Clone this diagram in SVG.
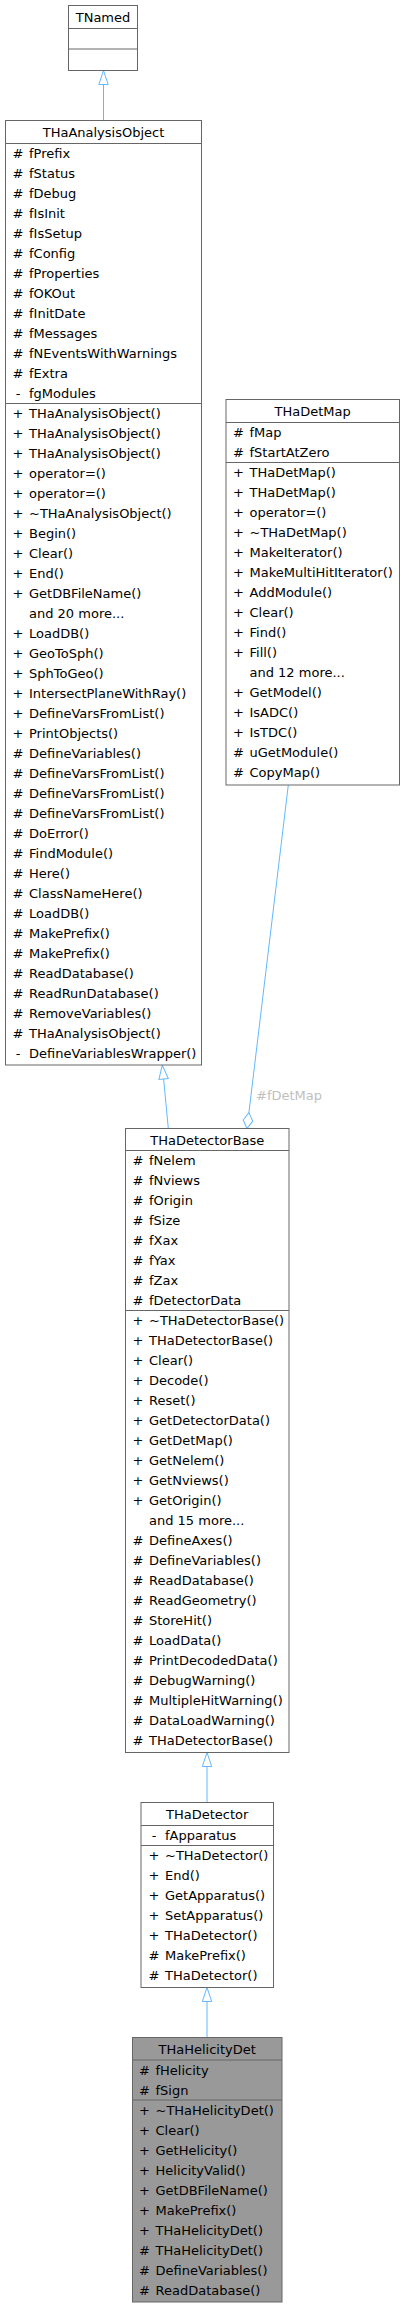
<svg xmlns="http://www.w3.org/2000/svg" width="405" height="2308" viewBox="0 0 405 2308">
<style>
.box{fill:#ffffff;stroke:#666666;stroke-width:1}
.hl{fill:#999999;stroke:#666666;stroke-width:1}
.div{stroke:#666666;stroke-width:1}
text{font-family:"DejaVu Sans","Liberation Sans",sans-serif;font-size:13px;fill:#000000}
.t{text-anchor:middle}
.s{text-anchor:middle}
.edge{stroke:#63b8ff;stroke-width:1;fill:none}
.lbl{fill:#c0c0c0}
</style>
<defs>
<marker id="tri" markerUnits="userSpaceOnUse" viewBox="-15 -6 16 12" markerWidth="16" markerHeight="12" refX="0" refY="0" orient="auto" overflow="visible">
<path d="M0,0 L-14,-4.7 L-14,4.7 Z" fill="#ffffff" stroke="#63b8ff" stroke-width="1"/>
</marker>
<marker id="dia" markerUnits="userSpaceOnUse" viewBox="-17 -6 18 12" markerWidth="18" markerHeight="12" refX="0" refY="0" orient="auto" overflow="visible">
<path d="M0,0 L-8,-4.8 L-16,0 L-8,4.8 Z" fill="#ffffff" stroke="#63b8ff" stroke-width="1"/>
</marker>
</defs>
<rect width="405" height="2308" fill="#ffffff"/>

<g id="connectors">
<line class="edge" x1="103.5" y1="120.5" x2="103.5" y2="70.5" marker-end="url(#tri)"/>
<line class="edge" x1="168.3" y1="1128.5" x2="162.3" y2="1065" marker-end="url(#tri)"/>
<line class="edge" x1="288.3" y1="785" x2="247" y2="1128.5" marker-end="url(#dia)"/>
<text class="lbl" x="256" y="1100">#fDetMap</text>
<line class="edge" x1="207" y1="1802.5" x2="207" y2="1752.5" marker-end="url(#tri)"/>
<line class="edge" x1="207" y1="2037.5" x2="207" y2="1987.5" marker-end="url(#tri)"/>
</g>

<g id="TNamed">
<rect class="box" x="68.5" y="5.5" width="69" height="65"/>
<line class="div" x1="68.5" y1="28.5" x2="137.5" y2="28.5"/>
<line class="div" x1="68.5" y1="49" x2="137.5" y2="49"/>
<text class="t" x="103" y="21.8">TNamed</text>
</g>

<g id="THaAnalysisObject">
<rect class="box" x="5.5" y="120.5" width="196" height="944.5"/>
<line class="div" x1="5.5" y1="143.5" x2="201.5" y2="143.5"/>
<line class="div" x1="5.5" y1="403.5" x2="201.5" y2="403.5"/>
<text class="t" x="103.5" y="136.5">THaAnalysisObject</text>
<g>
<text class="s" x="18" y="158">#</text><text x="29" y="158">fPrefix</text>
<text class="s" x="18" y="178">#</text><text x="29" y="178">fStatus</text>
<text class="s" x="18" y="198">#</text><text x="29" y="198">fDebug</text>
<text class="s" x="18" y="218">#</text><text x="29" y="218">fIsInit</text>
<text class="s" x="18" y="238">#</text><text x="29" y="238">fIsSetup</text>
<text class="s" x="18" y="258">#</text><text x="29" y="258">fConfig</text>
<text class="s" x="18" y="278">#</text><text x="29" y="278">fProperties</text>
<text class="s" x="18" y="298">#</text><text x="29" y="298">fOKOut</text>
<text class="s" x="18" y="318">#</text><text x="29" y="318">fInitDate</text>
<text class="s" x="18" y="338">#</text><text x="29" y="338">fMessages</text>
<text class="s" x="18" y="358">#</text><text x="29" y="358">fNEventsWithWarnings</text>
<text class="s" x="18" y="378">#</text><text x="29" y="378">fExtra</text>
<text class="s" x="18" y="398">-</text><text x="29" y="398">fgModules</text>
</g>
<g>
<text class="s" x="18" y="418">+</text><text x="29" y="418">THaAnalysisObject()</text>
<text class="s" x="18" y="438">+</text><text x="29" y="438">THaAnalysisObject()</text>
<text class="s" x="18" y="458">+</text><text x="29" y="458">THaAnalysisObject()</text>
<text class="s" x="18" y="478">+</text><text x="29" y="478">operator=()</text>
<text class="s" x="18" y="498">+</text><text x="29" y="498">operator=()</text>
<text class="s" x="18" y="518">+</text><text x="29" y="518">~THaAnalysisObject()</text>
<text class="s" x="18" y="538">+</text><text x="29" y="538">Begin()</text>
<text class="s" x="18" y="558">+</text><text x="29" y="558">Clear()</text>
<text class="s" x="18" y="578">+</text><text x="29" y="578">End()</text>
<text class="s" x="18" y="598">+</text><text x="29" y="598">GetDBFileName()</text>
<text x="29" y="618">and 20 more...</text>
<text class="s" x="18" y="638">+</text><text x="29" y="638">LoadDB()</text>
<text class="s" x="18" y="658">+</text><text x="29" y="658">GeoToSph()</text>
<text class="s" x="18" y="678">+</text><text x="29" y="678">SphToGeo()</text>
<text class="s" x="18" y="698">+</text><text x="29" y="698">IntersectPlaneWithRay()</text>
<text class="s" x="18" y="718">+</text><text x="29" y="718">DefineVarsFromList()</text>
<text class="s" x="18" y="738">+</text><text x="29" y="738">PrintObjects()</text>
<text class="s" x="18" y="758">#</text><text x="29" y="758">DefineVariables()</text>
<text class="s" x="18" y="778">#</text><text x="29" y="778">DefineVarsFromList()</text>
<text class="s" x="18" y="798">#</text><text x="29" y="798">DefineVarsFromList()</text>
<text class="s" x="18" y="818">#</text><text x="29" y="818">DefineVarsFromList()</text>
<text class="s" x="18" y="838">#</text><text x="29" y="838">DoError()</text>
<text class="s" x="18" y="858">#</text><text x="29" y="858">FindModule()</text>
<text class="s" x="18" y="878">#</text><text x="29" y="878">Here()</text>
<text class="s" x="18" y="898">#</text><text x="29" y="898">ClassNameHere()</text>
<text class="s" x="18" y="918">#</text><text x="29" y="918">LoadDB()</text>
<text class="s" x="18" y="938">#</text><text x="29" y="938">MakePrefix()</text>
<text class="s" x="18" y="958">#</text><text x="29" y="958">MakePrefix()</text>
<text class="s" x="18" y="978">#</text><text x="29" y="978">ReadDatabase()</text>
<text class="s" x="18" y="998">#</text><text x="29" y="998">ReadRunDatabase()</text>
<text class="s" x="18" y="1018">#</text><text x="29" y="1018">RemoveVariables()</text>
<text class="s" x="18" y="1038">#</text><text x="29" y="1038">THaAnalysisObject()</text>
<text class="s" x="18" y="1058">-</text><text x="29" y="1058">DefineVariablesWrapper()</text>
</g>
</g>

<g id="THaDetMap">
<rect class="box" x="226" y="399.5" width="173.5" height="385.5"/>
<line class="div" x1="226" y1="422.5" x2="399.5" y2="422.5"/>
<line class="div" x1="226" y1="462.5" x2="399.5" y2="462.5"/>
<text class="t" x="312.7" y="415.8">THaDetMap</text>
<text class="s" x="238.5" y="437">#</text><text x="249.5" y="437">fMap</text>
<text class="s" x="238.5" y="457">#</text><text x="249.5" y="457">fStartAtZero</text>
<text class="s" x="238.5" y="477">+</text><text x="249.5" y="477">THaDetMap()</text>
<text class="s" x="238.5" y="497">+</text><text x="249.5" y="497">THaDetMap()</text>
<text class="s" x="238.5" y="517">+</text><text x="249.5" y="517">operator=()</text>
<text class="s" x="238.5" y="537">+</text><text x="249.5" y="537">~THaDetMap()</text>
<text class="s" x="238.5" y="557">+</text><text x="249.5" y="557">MakeIterator()</text>
<text class="s" x="238.5" y="577">+</text><text x="249.5" y="577">MakeMultiHitIterator()</text>
<text class="s" x="238.5" y="597">+</text><text x="249.5" y="597">AddModule()</text>
<text class="s" x="238.5" y="617">+</text><text x="249.5" y="617">Clear()</text>
<text class="s" x="238.5" y="637">+</text><text x="249.5" y="637">Find()</text>
<text class="s" x="238.5" y="657">+</text><text x="249.5" y="657">Fill()</text>
<text x="249.5" y="677">and 12 more...</text>
<text class="s" x="238.5" y="697">+</text><text x="249.5" y="697">GetModel()</text>
<text class="s" x="238.5" y="717">+</text><text x="249.5" y="717">IsADC()</text>
<text class="s" x="238.5" y="737">+</text><text x="249.5" y="737">IsTDC()</text>
<text class="s" x="238.5" y="757">#</text><text x="249.5" y="757">uGetModule()</text>
<text class="s" x="238.5" y="777">#</text><text x="249.5" y="777">CopyMap()</text>
</g>

<g id="THaDetectorBase">
<rect class="box" x="125.5" y="1128.5" width="163.5" height="624"/>
<line class="div" x1="125.5" y1="1150.5" x2="289" y2="1150.5"/>
<line class="div" x1="125.5" y1="1310.5" x2="289" y2="1310.5"/>
<text class="t" x="207.3" y="1144.8">THaDetectorBase</text>
<text class="s" x="138" y="1165">#</text><text x="149" y="1165">fNelem</text>
<text class="s" x="138" y="1185">#</text><text x="149" y="1185">fNviews</text>
<text class="s" x="138" y="1205">#</text><text x="149" y="1205">fOrigin</text>
<text class="s" x="138" y="1225">#</text><text x="149" y="1225">fSize</text>
<text class="s" x="138" y="1245">#</text><text x="149" y="1245">fXax</text>
<text class="s" x="138" y="1265">#</text><text x="149" y="1265">fYax</text>
<text class="s" x="138" y="1285">#</text><text x="149" y="1285">fZax</text>
<text class="s" x="138" y="1305">#</text><text x="149" y="1305">fDetectorData</text>
<text class="s" x="138" y="1325">+</text><text x="149" y="1325">~THaDetectorBase()</text>
<text class="s" x="138" y="1345">+</text><text x="149" y="1345">THaDetectorBase()</text>
<text class="s" x="138" y="1365">+</text><text x="149" y="1365">Clear()</text>
<text class="s" x="138" y="1385">+</text><text x="149" y="1385">Decode()</text>
<text class="s" x="138" y="1405">+</text><text x="149" y="1405">Reset()</text>
<text class="s" x="138" y="1425">+</text><text x="149" y="1425">GetDetectorData()</text>
<text class="s" x="138" y="1445">+</text><text x="149" y="1445">GetDetMap()</text>
<text class="s" x="138" y="1465">+</text><text x="149" y="1465">GetNelem()</text>
<text class="s" x="138" y="1485">+</text><text x="149" y="1485">GetNviews()</text>
<text class="s" x="138" y="1505">+</text><text x="149" y="1505">GetOrigin()</text>
<text x="149" y="1525">and 15 more...</text>
<text class="s" x="138" y="1545">#</text><text x="149" y="1545">DefineAxes()</text>
<text class="s" x="138" y="1565">#</text><text x="149" y="1565">DefineVariables()</text>
<text class="s" x="138" y="1585">#</text><text x="149" y="1585">ReadDatabase()</text>
<text class="s" x="138" y="1605">#</text><text x="149" y="1605">ReadGeometry()</text>
<text class="s" x="138" y="1625">#</text><text x="149" y="1625">StoreHit()</text>
<text class="s" x="138" y="1645">#</text><text x="149" y="1645">LoadData()</text>
<text class="s" x="138" y="1665">#</text><text x="149" y="1665">PrintDecodedData()</text>
<text class="s" x="138" y="1685">#</text><text x="149" y="1685">DebugWarning()</text>
<text class="s" x="138" y="1705">#</text><text x="149" y="1705">MultipleHitWarning()</text>
<text class="s" x="138" y="1725">#</text><text x="149" y="1725">DataLoadWarning()</text>
<text class="s" x="138" y="1745">#</text><text x="149" y="1745">THaDetectorBase()</text>
</g>

<g id="THaDetector">
<rect class="box" x="141" y="1802.5" width="132.5" height="185"/>
<line class="div" x1="141" y1="1825.5" x2="273.5" y2="1825.5"/>
<line class="div" x1="141" y1="1845.5" x2="273.5" y2="1845.5"/>
<text class="t" x="207.2" y="1818.8">THaDetector</text>
<text class="s" x="154" y="1840">-</text><text x="165" y="1840">fApparatus</text>
<text class="s" x="154" y="1860">+</text><text x="165" y="1860">~THaDetector()</text>
<text class="s" x="154" y="1880">+</text><text x="165" y="1880">End()</text>
<text class="s" x="154" y="1900">+</text><text x="165" y="1900">GetApparatus()</text>
<text class="s" x="154" y="1920">+</text><text x="165" y="1920">SetApparatus()</text>
<text class="s" x="154" y="1940">+</text><text x="165" y="1940">THaDetector()</text>
<text class="s" x="154" y="1960">#</text><text x="165" y="1960">MakePrefix()</text>
<text class="s" x="154" y="1980">#</text><text x="165" y="1980">THaDetector()</text>
</g>

<g id="THaHelicityDet">
<rect class="hl" x="132.5" y="2037.5" width="149.5" height="264.5"/>
<line class="div" x1="132.5" y1="2060" x2="282" y2="2060"/>
<line class="div" x1="132.5" y1="2100" x2="282" y2="2100"/>
<text class="t" x="207.2" y="2053.5">THaHelicityDet</text>
<text class="s" x="144.5" y="2074.5">#</text><text x="155.5" y="2074.5">fHelicity</text>
<text class="s" x="144.5" y="2094.5">#</text><text x="155.5" y="2094.5">fSign</text>
<text class="s" x="144.5" y="2114.5">+</text><text x="155.5" y="2114.5">~THaHelicityDet()</text>
<text class="s" x="144.5" y="2134.5">+</text><text x="155.5" y="2134.5">Clear()</text>
<text class="s" x="144.5" y="2154.5">+</text><text x="155.5" y="2154.5">GetHelicity()</text>
<text class="s" x="144.5" y="2174.5">+</text><text x="155.5" y="2174.5">HelicityValid()</text>
<text class="s" x="144.5" y="2194.5">+</text><text x="155.5" y="2194.5">GetDBFileName()</text>
<text class="s" x="144.5" y="2214.5">+</text><text x="155.5" y="2214.5">MakePrefix()</text>
<text class="s" x="144.5" y="2234.5">+</text><text x="155.5" y="2234.5">THaHelicityDet()</text>
<text class="s" x="144.5" y="2254.5">#</text><text x="155.5" y="2254.5">THaHelicityDet()</text>
<text class="s" x="144.5" y="2274.5">#</text><text x="155.5" y="2274.5">DefineVariables()</text>
<text class="s" x="144.5" y="2294.5">#</text><text x="155.5" y="2294.5">ReadDatabase()</text>
</g>
</svg>
